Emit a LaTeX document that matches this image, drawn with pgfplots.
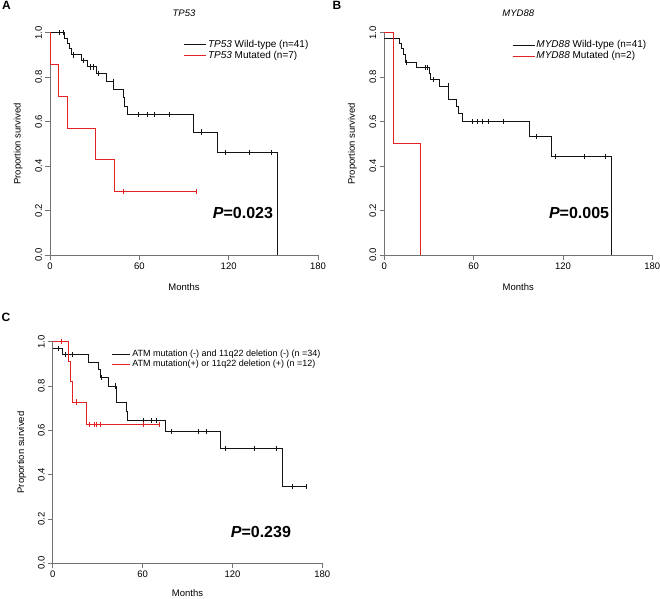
\documentclass[border=0pt]{standalone}
\usepackage{fontspec}
\setmainfont{Liberation Sans}
\usepackage{pgfplots}
\pgfplotsset{compat=1.18}
\definecolor{kmred}{RGB}{225,35,35}
\definecolor{axgray}{RGB}{115,115,115}
\definecolor{kmblack}{RGB}{20,20,20}

\pgfplotsset{kmaxis/.style={
  scale only axis, xmin=0, xmax=180, ymin=0, ymax=1,
  axis lines*=left, axis line style={axgray, line width=0.6pt},
  xtick={0,60,120,180}, ytick={0,0.2,0.4,0.6,0.8,1},
  yticklabels={0.0,0.2,0.4,0.6,0.8,1.0},
  tick align=outside, major tick length=4.5pt,
  xtick pos=left, ytick pos=left,
  tick style={axgray, line width=0.6pt},
  ticklabel style={font=\fontsize{9.5}{10}\selectfont},
  /pgf/number format/assume math mode=true,
  yticklabel style={rotate=90, anchor=south},
  clip=false,
  legend cell align=left,
  legend style={draw=none, fill=none, inner sep=0pt, anchor=north west,
    font=\fontsize{10}{11}\selectfont,
    nodes={inner sep=1.5pt, text height=6.5pt, text depth=1.5pt}},
  legend image code/.code={\draw[#1] (0pt,0pt) -- (16pt,0pt); \path (0pt,0pt) -- (22pt,0pt);},
  every axis plot/.append style={line width=0.9pt},
}}
\pgfplotsset{censor/.style={only marks, mark=|, mark size=2.6pt, mark options={line width=0.6pt}, forget plot}}

\begin{document}
\begin{tikzpicture}[x=1pt,y=1pt]
\useasboundingbox (0,0) rectangle (660,598);

% ---------------- Panel A ----------------
\begin{axis}[kmaxis, at={(50pt,343pt)}, anchor=south west, width=268pt, height=222.3pt,
  xlabel={Months}, ylabel={Proportion survived},
  every axis x label/.style={at={(axis description cs:0.5,-0.144)}, anchor=center, font=\fontsize{9.5}{11}\selectfont},
  every axis y label/.style={at={(axis description cs:-0.119,0.5)}, rotate=90, anchor=center, font=\fontsize{9.5}{11}\selectfont},
  title={TP53}, every axis title/.style={at={(axis description cs:0.5,1.087)}, anchor=center, font=\fontsize{9.5}{11}\selectfont\itshape},
  legend style={at={(axis description cs:0.498,0.971)}}]
\addplot[kmblack, const plot] coordinates {
 (0,1) (9.6,0.976) (12,0.951) (13.3,0.927) (14.5,0.90) (21.2,0.874) (25,0.846)
 (31.3,0.818) (37.6,0.782) (42.5,0.745) (49.2,0.71) (49.9,0.67) (51.9,0.633)
 (96.2,0.553) (112.3,0.461) (152.5,0.461) (152.5,0)};
\addlegendentry{\textit{TP53} Wild-type (n=41)}
\addplot[kmred, const plot] coordinates {
 (0,1) (0.3,0.857) (6,0.714) (11.9,0.571) (30.6,0.429) (43.6,0.286) (98.4,0.286)};
\addlegendentry{\textit{TP53} Mutated (n=7)}
\addplot[censor, kmblack] coordinates {
 (6,1) (8.9,1) (15.7,0.90) (22.4,0.874) (27.3,0.846) (29.1,0.846) (32.4,0.818)
 (42.5,0.782) (59.3,0.633) (65.5,0.633) (69.8,0.633) (80,0.633) (101.7,0.553)
 (118,0.461) (133.7,0.461) (148.7,0.461)};
\addplot[censor, kmred] coordinates {(49.2,0.286) (98.4,0.286)};
\node[font=\bfseries\fontsize{16}{16}\selectfont] at (axis cs:129.6,0.189) {\textit{P}=0.023};
\end{axis}

% ---------------- Panel B ----------------
\begin{axis}[kmaxis, at={(384.3pt,343pt)}, anchor=south west, width=268pt, height=222.3pt,
  xlabel={Months}, ylabel={Proportion survived},
  every axis x label/.style={at={(axis description cs:0.5,-0.144)}, anchor=center, font=\fontsize{9.5}{11}\selectfont},
  every axis y label/.style={at={(axis description cs:-0.119,0.5)}, rotate=90, anchor=center, font=\fontsize{9.5}{11}\selectfont},
  title={MYD88}, every axis title/.style={at={(axis description cs:0.5,1.087)}, anchor=center, font=\fontsize{9.5}{11}\selectfont\itshape},
  legend style={at={(axis description cs:0.476,0.969)}}]
\addplot[kmblack, const plot] coordinates {
 (0,0.976) (10.1,0.951) (11.2,0.927) (12.8,0.90) (13.9,0.866) (21.7,0.842)
 (30,0.816) (31.3,0.79) (36.9,0.76) (43.2,0.70) (48.6,0.67) (49.7,0.635)
 (52.4,0.60) (97.2,0.533) (112.4,0.444) (152.7,0.444) (152.7,0)};
\addlegendentry{\textit{MYD88} Wild-type (n=41)}
\addplot[kmred, const plot] coordinates {(0,1) (6,0.5) (24.4,0.5) (24.4,0)};
\addlegendentry{\textit{MYD88} Mutated (n=2)}
\addplot[censor, kmblack] coordinates {
 (15,0.866) (27.8,0.842) (28.9,0.842) (32.9,0.79) (43,0.76) (59.3,0.60) (62.7,0.60)
 (65.6,0.60) (69.6,0.60) (79.9,0.60) (102.3,0.533) (115.1,0.444) (134.1,0.444) (148.2,0.444)};
\node[font=\bfseries\fontsize{16}{16}\selectfont] at (axis cs:130.8,0.19) {\textit{P}=0.005};
\end{axis}

% ---------------- Panel C ----------------
\begin{axis}[kmaxis, at={(52.7pt,34.7pt)}, anchor=south west, width=269.6pt, height=221.6pt,
  xlabel={Months}, ylabel={Proportion survived},
  every axis x label/.style={at={(axis description cs:0.5,-0.133)}, anchor=center, font=\fontsize{9.5}{11}\selectfont},
  every axis y label/.style={at={(axis description cs:-0.115,0.5)}, rotate=90, anchor=center, font=\fontsize{9.5}{11}\selectfont},
  legend style={at={(axis description cs:0.219,0.968)}, font=\fontsize{9}{10}\selectfont,
    nodes={inner sep=1.5pt, text height=6pt, text depth=1.5pt}},
  legend image code/.code={\draw[#1] (0pt,0pt) -- (13pt,0pt); \path (0pt,0pt) -- (18pt,0pt);}]
\addplot[kmblack, const plot] coordinates {
 (0,0.971) (6.7,0.941) (23.8,0.907) (30.5,0.873) (31.6,0.838) (37.2,0.80)
 (42.7,0.725) (49,0.685) (50.1,0.644) (75,0.595) (111.7,0.519) (153.5,0.346) (169.6,0.346)};
\addlegendentry{ATM mutation (-) and 11q22 deletion (-) (n =34)}
\addplot[kmred, const plot] coordinates {
 (0,1) (10.5,0.91) (11.6,0.82) (13.4,0.728) (22.7,0.625) (71.2,0.625)};
\addlegendentry{ATM mutation(+) or 11q22 deletion (+) (n =12)}
\addplot[censor, kmblack] coordinates {
 (4,0.971) (8.7,0.941) (13.4,0.941) (32.7,0.838) (41.6,0.80) (60.5,0.644) (65.6,0.644)
 (69,0.644) (79.4,0.595) (97.2,0.595) (102.4,0.595) (115,0.519) (134.4,0.519)
 (149.5,0.519) (160,0.346) (169.6,0.346)};
\addplot[censor, kmred] coordinates {
 (5.6,1) (15.6,0.728) (24.5,0.625) (27.6,0.625) (29.4,0.625) (31.6,0.625) (60.5,0.625) (71.2,0.625)};
\node[font=\bfseries\fontsize{16}{16}\selectfont] at (axis cs:139,0.143) {\textit{P}=0.239};
\end{axis}

% panel letters
\node[font=\bfseries\fontsize{12}{12}\selectfont] at (6.5,593) {A};
\node[font=\bfseries\fontsize{12}{12}\selectfont] at (337,593) {B};
\node[font=\bfseries\fontsize{12}{12}\selectfont] at (6,280.5) {C};
\end{tikzpicture}
\end{document}
